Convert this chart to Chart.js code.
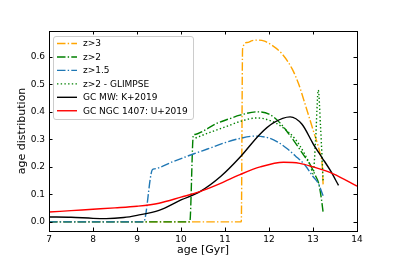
<!DOCTYPE html>
<html>
<head>
<meta charset="utf-8">
<script src="https://cdn.jsdelivr.net/npm/chart.js@4/dist/chart.umd.min.js"></script>
<style>
  html, body { margin: 0; padding: 0; background: #fff; }
  canvas { display: block; }
</style>
</head>
<body>
<canvas id="ageChart" width="397" height="264"></canvas>
<script>
// Series (age in Gyr, normalised distribution)
const z3Age = [7, 11.37, 11.40, 11.5, 11.62, 11.75, 11.9, 12.06, 12.29, 12.52, 12.67, 12.84, 13.0, 13.16, 13.21, 13.23];
const z3Dist = [0, 0, 0.63, 0.652, 0.659, 0.661, 0.657, 0.643, 0.612, 0.558, 0.503, 0.418, 0.335, 0.249, 0.205, 0.135];

const z2Age = [7, 10.2, 10.28, 10.32, 10.5, 10.81, 11.1, 11.34, 11.72, 12.0, 12.25, 12.45, 12.63, 12.8, 12.93, 13.05, 13.13, 13.19, 13.23];
const z2Dist = [0, 0, 0.315, 0.318, 0.33, 0.358, 0.375, 0.388, 0.40, 0.392, 0.36, 0.32, 0.28, 0.24, 0.21, 0.17, 0.14, 0.085, 0.035];

const z15Age = [7, 9.15, 9.35, 9.40, 9.8, 10.28, 10.6, 11.0, 11.3, 11.68, 12.0, 12.2, 12.4, 12.6, 12.82, 13.0, 13.12, 13.23];
const z15Dist = [0, 0, 0.19, 0.193, 0.218, 0.247, 0.265, 0.288, 0.302, 0.312, 0.305, 0.29, 0.268, 0.24, 0.206, 0.165, 0.14, 0.095];

const glimpseAge = [10.33, 10.6, 11.0, 11.4, 11.72, 12.0, 12.3, 12.6, 12.8, 12.95, 13.0, 13.06, 13.12, 13.17, 13.21, 13.23];
const glimpseDist = [0.305, 0.322, 0.345, 0.368, 0.378, 0.37, 0.345, 0.30, 0.25, 0.2, 0.175, 0.3, 0.479, 0.35, 0.22, 0.15];

const mwAge = [7, 7.5, 8.0, 8.3, 8.7, 9.0, 9.5, 10.0, 10.43, 10.9, 11.34, 11.8, 12.1, 12.48, 12.75, 13.0, 13.2, 13.39, 13.58];
const mwDist = [0.018, 0.017, 0.013, 0.012, 0.016, 0.024, 0.042, 0.08, 0.11, 0.165, 0.235, 0.32, 0.36, 0.382, 0.355, 0.285, 0.235, 0.188, 0.133];

const ngcAge = [7, 7.5, 8.0, 8.5, 9.0, 9.5, 10.0, 10.43, 10.9, 11.34, 11.8, 12.33, 12.7, 13.0, 13.46, 14.0];
const ngcDist = [0.036, 0.041, 0.046, 0.051, 0.057, 0.068, 0.09, 0.11, 0.14, 0.172, 0.2, 0.217, 0.213, 0.2, 0.175, 0.13];

const seriesLabels = ['z>3', 'z>2', 'z>1.5', 'z>2 - GLIMPSE', 'GC MW: K+2019', 'GC NGC 1407: U+2019'];
const xTicks = [7, 8, 9, 10, 11, 12, 13, 14];
const yTicks = [0, 0.1, 0.2, 0.3, 0.4, 0.5, 0.6];

const FONT = "'DejaVu Sans', sans-serif";
const LW = 1.4;
const dashDot = [8.5, 2.2, 1.4, 2.2];
const dotted = [1.4, 2.3];

function toPoints(ages, vals) {
  return ages.map((a, i) => ({x: a, y: vals[i]}));
}

function lineSet(label, ages, vals, color, dash, order) {
  return {
    label,
    data: toPoints(ages, vals),
    borderColor: color,
    borderWidth: LW,
    borderDash: dash,
    pointRadius: 0,
    fill: false,
    cubicInterpolationMode: 'monotone',
    order
  };
}

// Ticks pointing inward on all four sides, plus the axes frame
const frameTicks = {
  id: 'frameTicks',
  afterDatasetsDraw(chart) {
    const { ctx, chartArea: a, scales: { x, y } } = chart;
    ctx.save();
    ctx.strokeStyle = '#000';
    ctx.lineWidth = 1;
    ctx.setLineDash([]);
    ctx.strokeRect(a.left + 0.5, a.top + 0.5, a.right - a.left, a.bottom - a.top);
    ctx.beginPath();
    xTicks.forEach(v => {
      const px = Math.round(x.getPixelForValue(v)) + 0.5;
      ctx.moveTo(px, a.bottom);
      ctx.lineTo(px, a.bottom - 3.5);
      ctx.moveTo(px, a.top);
      ctx.lineTo(px, a.top + 3.5);
    });
    yTicks.forEach(v => {
      const py = Math.round(y.getPixelForValue(v)) + 0.5;
      ctx.moveTo(a.left, py);
      ctx.lineTo(a.left + 3.5, py);
      ctx.moveTo(a.right, py);
      ctx.lineTo(a.right - 3.5, py);
    });
    ctx.stroke();
    ctx.restore();
  }
};

// Legend box in the upper left of the plot
const insetLegend = {
  id: 'insetLegend',
  afterDraw(chart) {
    const ctx = chart.ctx;
    const bx = 53.5, by = 36.5, bw = 140, bh = 83, r = 2.5;
    ctx.save();
    ctx.beginPath();
    ctx.moveTo(bx + r, by);
    ctx.arcTo(bx + bw, by, bx + bw, by + bh, r);
    ctx.arcTo(bx + bw, by + bh, bx, by + bh, r);
    ctx.arcTo(bx, by + bh, bx, by, r);
    ctx.arcTo(bx, by, bx + bw, by, r);
    ctx.closePath();
    ctx.fillStyle = 'rgba(255,255,255,0.8)';
    ctx.fill();
    ctx.strokeStyle = '#cccccc';
    ctx.lineWidth = 1;
    ctx.stroke();

    chart.data.datasets.forEach((ds, i) => {
      const yy = 43.5 + i * 13.45;
      ctx.beginPath();
      ctx.strokeStyle = ds.borderColor;
      ctx.lineWidth = ds.borderWidth;
      ctx.setLineDash(ds.borderDash || []);
      ctx.moveTo(57, yy);
      ctx.lineTo(77, yy);
      ctx.stroke();
      ctx.setLineDash([]);
      ctx.fillStyle = '#000';
      ctx.font = '9px ' + FONT;
      ctx.textBaseline = 'middle';
      ctx.textAlign = 'left';
      ctx.fillText(ds.label, 83, yy + 0.5);
    });
    ctx.restore();
  }
};

new Chart(document.getElementById('ageChart'), {
  type: 'line',
  data: {
    datasets: [
      lineSet(seriesLabels[0], z3Age, z3Dist, '#ffa500', dashDot, 6),
      lineSet(seriesLabels[1], z2Age, z2Dist, '#008000', dashDot, 5),
      lineSet(seriesLabels[2], z15Age, z15Dist, '#1f77b4', dashDot, 4),
      lineSet(seriesLabels[3], glimpseAge, glimpseDist, '#008000', dotted, 3),
      lineSet(seriesLabels[4], mwAge, mwDist, '#000000', [], 2),
      lineSet(seriesLabels[5], ngcAge, ngcDist, '#ff0000', [], 1)
    ]
  },
  options: {
    responsive: false,
    animation: false,
    devicePixelRatio: 1,
    layout: { padding: { left: 0, right: 40, top: 31, bottom: 0 } },
    plugins: {
      legend: { display: false },
      tooltip: { enabled: false }
    },
    scales: {
      x: {
        type: 'linear',
        position: 'bottom',
        min: 7,
        max: 14,
        afterBuildTicks: s => { s.ticks = xTicks.map(v => ({ value: v })); },
        afterFit: s => { s.height = 33; },
        ticks: { color: '#000', font: { family: FONT, size: 9 }, padding: 3, maxRotation: 0 },
        grid: { display: false, drawTicks: false },
        border: { display: false },
        title: { display: true, text: 'age [Gyr]', color: '#000', font: { family: FONT, size: 11 }, padding: { top: 0, bottom: 7.4 } }
      },
      y: {
        type: 'linear',
        position: 'left',
        min: -0.033,
        max: 0.694,
        afterBuildTicks: s => { s.ticks = yTicks.map(v => ({ value: v })); },
        afterFit: s => { s.width = 49; },
        ticks: { color: '#000', font: { family: FONT, size: 9 }, padding: 4, crossAlign: 'near', callback: v => v.toFixed(1) },
        grid: { display: false, drawTicks: false },
        border: { display: false },
        title: { display: true, text: 'age distribution', color: '#000', font: { family: FONT, size: 11 }, padding: { top: 15.4, bottom: 0 } }
      }
    }
  },
  plugins: [frameTicks, insetLegend]
});
</script>
</body>
</html>
